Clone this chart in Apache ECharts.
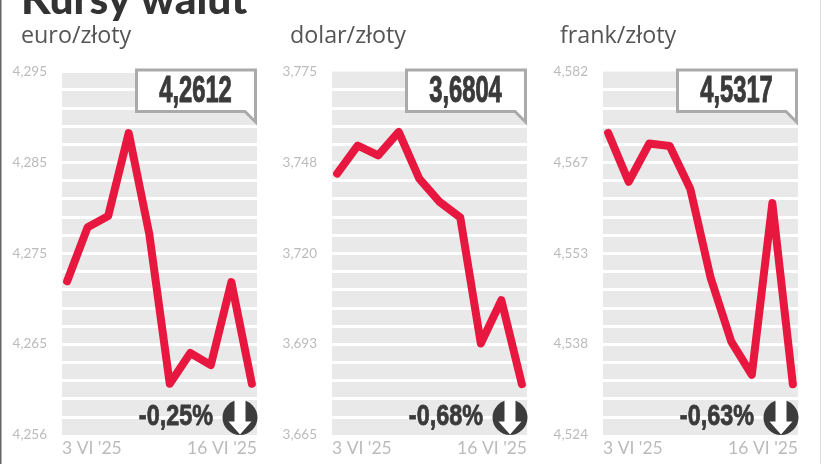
<!DOCTYPE html>
<html><head><meta charset="utf-8">
<style>html,body{margin:0;padding:0;background:#fff}#c{width:821px;height:464px}</style>
<script src="https://cdn.jsdelivr.net/npm/echarts@6/dist/echarts.min.js"></script>
</head><body><div id="c"></div>
<script>
const categories = ["3 VI '25","4 VI","5 VI","6 VI","9 VI","10 VI","11 VI","12 VI","13 VI","16 VI '25"];
const euroValues  = [4.2725,4.2783,4.2795,4.2884,4.2776,4.2615,4.2648,4.2635,4.2724,4.2615];
const dolarValues = [3.7441,3.7526,3.7496,3.7567,3.7426,3.7355,3.7308,3.6927,3.7058,3.6804];
const frankValues = [4.5722,4.5644,4.5705,4.5701,4.5633,4.5490,4.5389,4.5336,4.5610,4.5321];
const euroTicks  = ["4,256","4,265","4,275","4,285","4,295"];
const dolarTicks = ["3,665","3,693","3,720","3,748","3,775"];
const frankTicks = ["4,524","4,538","4,553","4,567","4,582"];
const names = ["euro/złoty","dolar/złoty","frank/złoty"];
const lastRates = ["4,2612","3,6804","4,5317"];
const changes = ["-0,25%","-0,68%","-0,63%"];
const panels = [
  {left:62, nameX:21, min:4.256,max:4.295,values:euroValues,ticks:euroTicks},
  {left:332,nameX:290,min:3.665,max:3.775,values:dolarValues,ticks:dolarTicks},
  {left:603,nameX:560,min:4.524,max:4.582,values:frankValues,ticks:frankTicks}
];
const W=195, TOP=71.5, H=363.5;
const grid=[],xAxis=[],yAxis=[],series=[];
const graphic=[
  {type:'rect',shape:{x:0,y:0,width:1.5,height:464},style:{fill:'#666'}},
  {type:'rect',shape:{x:820,y:0,width:1,height:464},style:{fill:'#ddd'}},
  {type:'text',x:21,y:-21,z:20,style:{text:'Kursy walut',font:'900 42.5px Lato',fill:'#333'}}
];
panels.forEach((p,i)=>{
  const iv=(p.max-p.min)/20;
  grid.push({left:p.left,top:TOP,width:W,height:H,show:true,backgroundColor:'#e9e9e9',borderWidth:0});
  xAxis.push({type:'value',gridIndex:i,min:-0.25,max:9.25,
    axisLine:{show:false},axisTick:{show:false},splitLine:{show:false},
    axisLabel:{customValues:[-0.25,9.25],alignMinLabel:'left',alignMaxLabel:'right',
      color:'#bbb',fontFamily:'Lato',fontSize:17.5,margin:4,
      formatter:v=>v<0?categories[0]:categories[categories.length-1]}});
  yAxis.push({type:'value',gridIndex:i,min:p.min,max:p.max,interval:iv,
    axisLine:{show:false},axisTick:{show:false},
    splitLine:{show:true,showMinLine:false,showMaxLine:false,lineStyle:{color:'#fff',width:3}},
    axisLabel:{color:'#bbb',fontFamily:'Lato',fontSize:13.5,margin:15,
      formatter:v=>{const k=Math.round((v-p.min)/iv);return k%5===0?p.ticks[k/5]:'';}}});
  series.push({type:'line',xAxisIndex:i,yAxisIndex:i,symbol:'none',silent:true,clip:false,
    data:p.values.map((v,j)=>[j,v]),
    lineStyle:{color:'#e8173f',width:8,cap:'round',join:'round'}});
  const L=p.left, R=L+W;
  graphic.push({type:'text',x:p.nameX,y:25,z:20,style:{text:names[i],font:'23.3px "Open Sans"',fill:'#555'}});
  graphic.push({type:'polygon',z:10,shape:{points:[[L+74.5,70],[R-1.5,70],[R-1.5,122],[R-12,111.5],[L+74.5,111.5]]},
    style:{fill:'#fff',stroke:'#aaa',lineWidth:3}});
  graphic.push({type:'text',z:11,x:L+133.5,y:92,scaleX:0.66,
    style:{text:lastRates[i],font:'bold 36px "Liberation Sans"',fill:'#3a3a3a',stroke:'#3a3a3a',lineWidth:1,align:'center',verticalAlign:'middle'}});
  graphic.push({type:'text',z:11,x:R-44,y:417,scaleX:0.78,
    style:{text:changes[i],font:'bold 30px "Liberation Sans"',fill:'#3a3a3a',stroke:'#3a3a3a',lineWidth:0.8,align:'right',verticalAlign:'middle'}});
  const cx=R-17,cy=417.5;
  graphic.push({type:'circle',z:11,shape:{cx:cx,cy:cy,r:17.5},style:{fill:'#3c3c3c'}});
  graphic.push({type:'polygon',z:12,shape:{points:[[cx-5.5,cy-18],[cx+5.5,cy-18],[cx+5.5,cy+4],[cx+11.5,cy+4],[cx,cy+17],[cx-11.5,cy+4],[cx-5.5,cy+4]]},style:{fill:'#fff'}});
});
const chart=echarts.init(document.getElementById('c'),null,{renderer:'canvas'});
chart.setOption({animation:false,grid,xAxis,yAxis,series,graphic});
</script></body></html>
